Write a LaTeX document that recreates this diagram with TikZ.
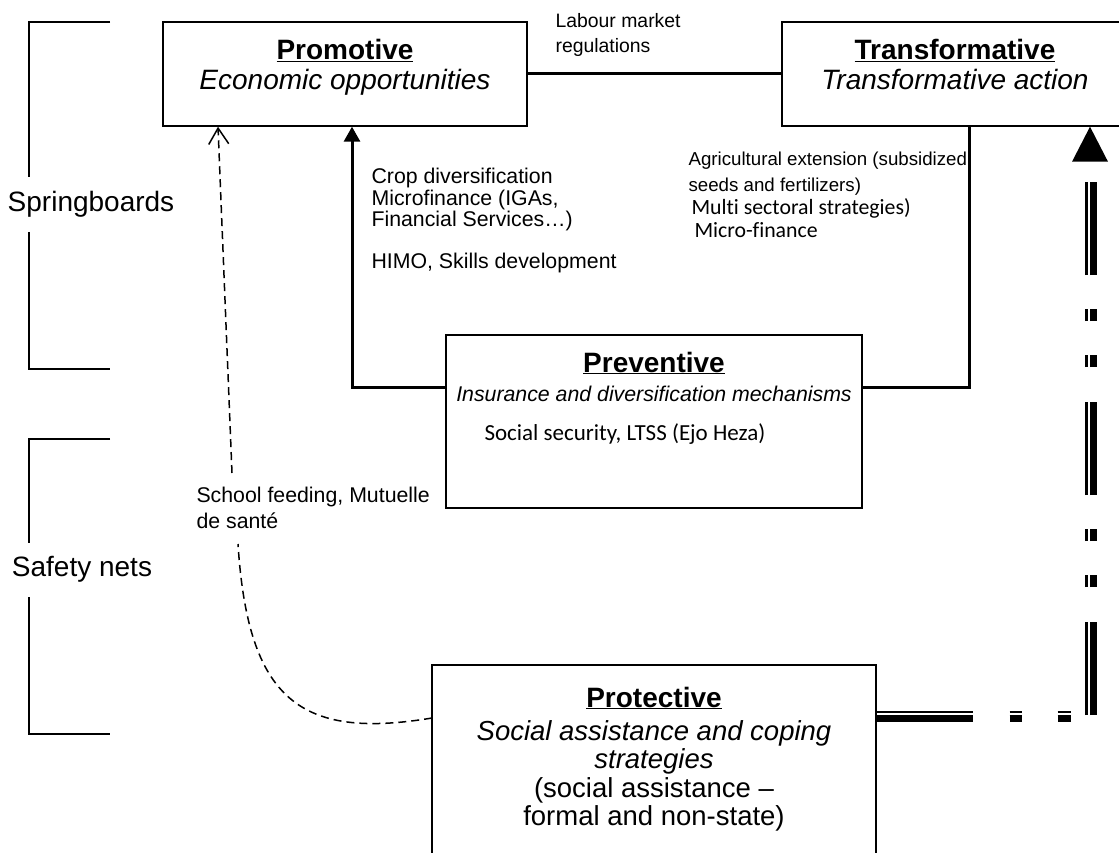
\documentclass[tikz,border=0pt]{standalone}
\usepackage{fontspec}
\setmainfont{Liberation Sans}
\newfontfamily\calibri[Ligatures=NoCommon]{Carlito}
\usetikzlibrary{arrows.meta}

\begin{document}
\begin{tikzpicture}[x=1pt,y=-1pt,
    box/.style={draw,line width=1.4pt,inner sep=0pt},
    conn/.style={line width=3pt},
    brk/.style={line width=1.6pt},
    big/.style={font=\fontsize{28}{30}\selectfont},
    small/.style={font=\fontsize{21.3}{21.5}\selectfont},
    dashln/.style={line width=1.5pt,dash pattern=on 8pt off 5pt},
    dd/.style={dash pattern=on 93pt off 35pt on 12pt off 34pt on 12pt off 34pt},
    ddh/.style={dash pattern=on 96pt off 37pt on 12pt off 36pt on 13pt off 40pt}]
    \useasboundingbox (0,0) rectangle (1119,853);
    \clip (0,0) rectangle (1119,853);

    % brackets on the left
    \draw[brk] (110,22) -- (29,22) -- (29,177);
    \draw[brk] (29,232) -- (29,369) -- (110,369);
    \node[big] (spring) at (91,204) {Springboards};
    \draw[brk] (110,439) -- (29,439) -- (29,543);
    \draw[brk] (29,597) -- (29,734) -- (110,734);
    \node[big] (safety) at (82,569) {Safety nets};

    % the four boxes
    \node[box,minimum width=364pt,minimum height=104pt] (promo) at (345,74) {};
    \node[box,minimum width=346pt,minimum height=104pt] (trans) at (955,74) {};
    \node[box,minimum width=416pt,minimum height=173pt] (prev) at (654,421.5) {};
    \node[box,minimum width=444pt,minimum height=215pt] (prot) at (654,772.5) {};

    \node[big,anchor=base] (promot) at (345,60) {\underline{\textbf{Promotive}}};
    \node[big,anchor=base] (promos) at (345,90) {\textit{Economic opportunities}};
    \node[big,anchor=base] (transt) at (955,60) {\underline{\textbf{Transformative}}};
    \node[big,anchor=base] (transs) at (955,90) {\textit{Transformative action}};
    \node[big,anchor=base] (prevt) at (654,372) {\underline{\textbf{Preventive}}};
    \node[small,anchor=base] (prevs) at (654,401) {\textit{Insurance and diversification mechanisms}};
    \node[anchor=base west,font=\calibri\fontsize{23}{25}\selectfont] (secu) at (481,440) {Social security, LTSS (Ejo Heza)};
    \node[big,anchor=base] (prott) at (654,707) {\underline{\textbf{Protective}}};
    \node[anchor=north,align=center,font=\fontsize{27.5}{28.5}\selectfont] (prots) at (654,717)
        {\textit{Social assistance and coping}\\ \textit{strategies}\\ (social assistance –\\ formal and non-state)};

    % labels
    \node[anchor=north west,align=left,font=\fontsize{19.4}{25}\selectfont] (labour) at (552,10) {Labour market\\regulations};
    \node[anchor=north west,align=left,small] (crop) at (368,165)
        {Crop diversification\\ Microfinance (IGAs,\\ Financial Services…)\\[20pt] HIMO, Skills development};
    \node[anchor=north west,align=left,font=\fontsize{18.7}{23}\selectfont] (agri) at (685,148)
        {Agricultural extension (subsidized\\[3pt] seeds and fertilizers)\\
         \calibri\fontsize{21.8}{23}\selectfont\hspace{3pt}Multi sectoral strategies)\\
         \calibri\fontsize{21.8}{23}\selectfont\hspace{6pt}Micro-finance};
    \node[anchor=north west,align=left,font=\fontsize{21.3}{26}\selectfont] (feed) at (193,484) {School feeding, Mutuelle\\ de santé};

    % connectors
    \coordinate (a1) at (352,387);
    \coordinate (a2) at (969,387);
    \draw[conn,-{Triangle[width=16pt,length=15pt]}] (prev.west |- a1) -- (a1) -- (a1 |- promo.south);
    \draw[conn] (prev.east |- a2) -- (a2) -- (a2 |- trans.south);
    \draw[conn] (promo.east) -- (trans.west);

    \coordinate (d0) at (432,718);
    \coordinate (d1) at (238,544);
    \coordinate (d2) at (232,473);
    \coordinate (d3) at (218,0);
    \draw[dashln] (d0) .. controls (300,740) and (248,700) .. (d1);
    \draw[dashln,-{Straight Barb[width=20pt,length=16pt]}] (d2) -- (d3 |- promo.south);

    \coordinate (bend) at (1090,715);
    \coordinate (tipb) at (1090,161);
    \coordinate (h1) at (prot.east |- bend);
    \draw[ddh,line width=2.5pt] ([yshift=3pt]h1) -- ([yshift=3pt]bend);
    \draw[ddh,line width=6.5pt] ([yshift=-3.5pt]h1) -- ([yshift=-3.5pt]bend);
    \draw[dd,line width=3pt] ([xshift=-4pt]bend) -- ([xshift=-4pt]tipb);
    \draw[dd,line width=6.5pt] ([xshift=3.5pt]bend) -- ([xshift=3.5pt]tipb);
    \fill (tipb |- trans.south) -- ++(-18,35) -- ++(36,0) -- cycle;
\end{tikzpicture}
\end{document}
